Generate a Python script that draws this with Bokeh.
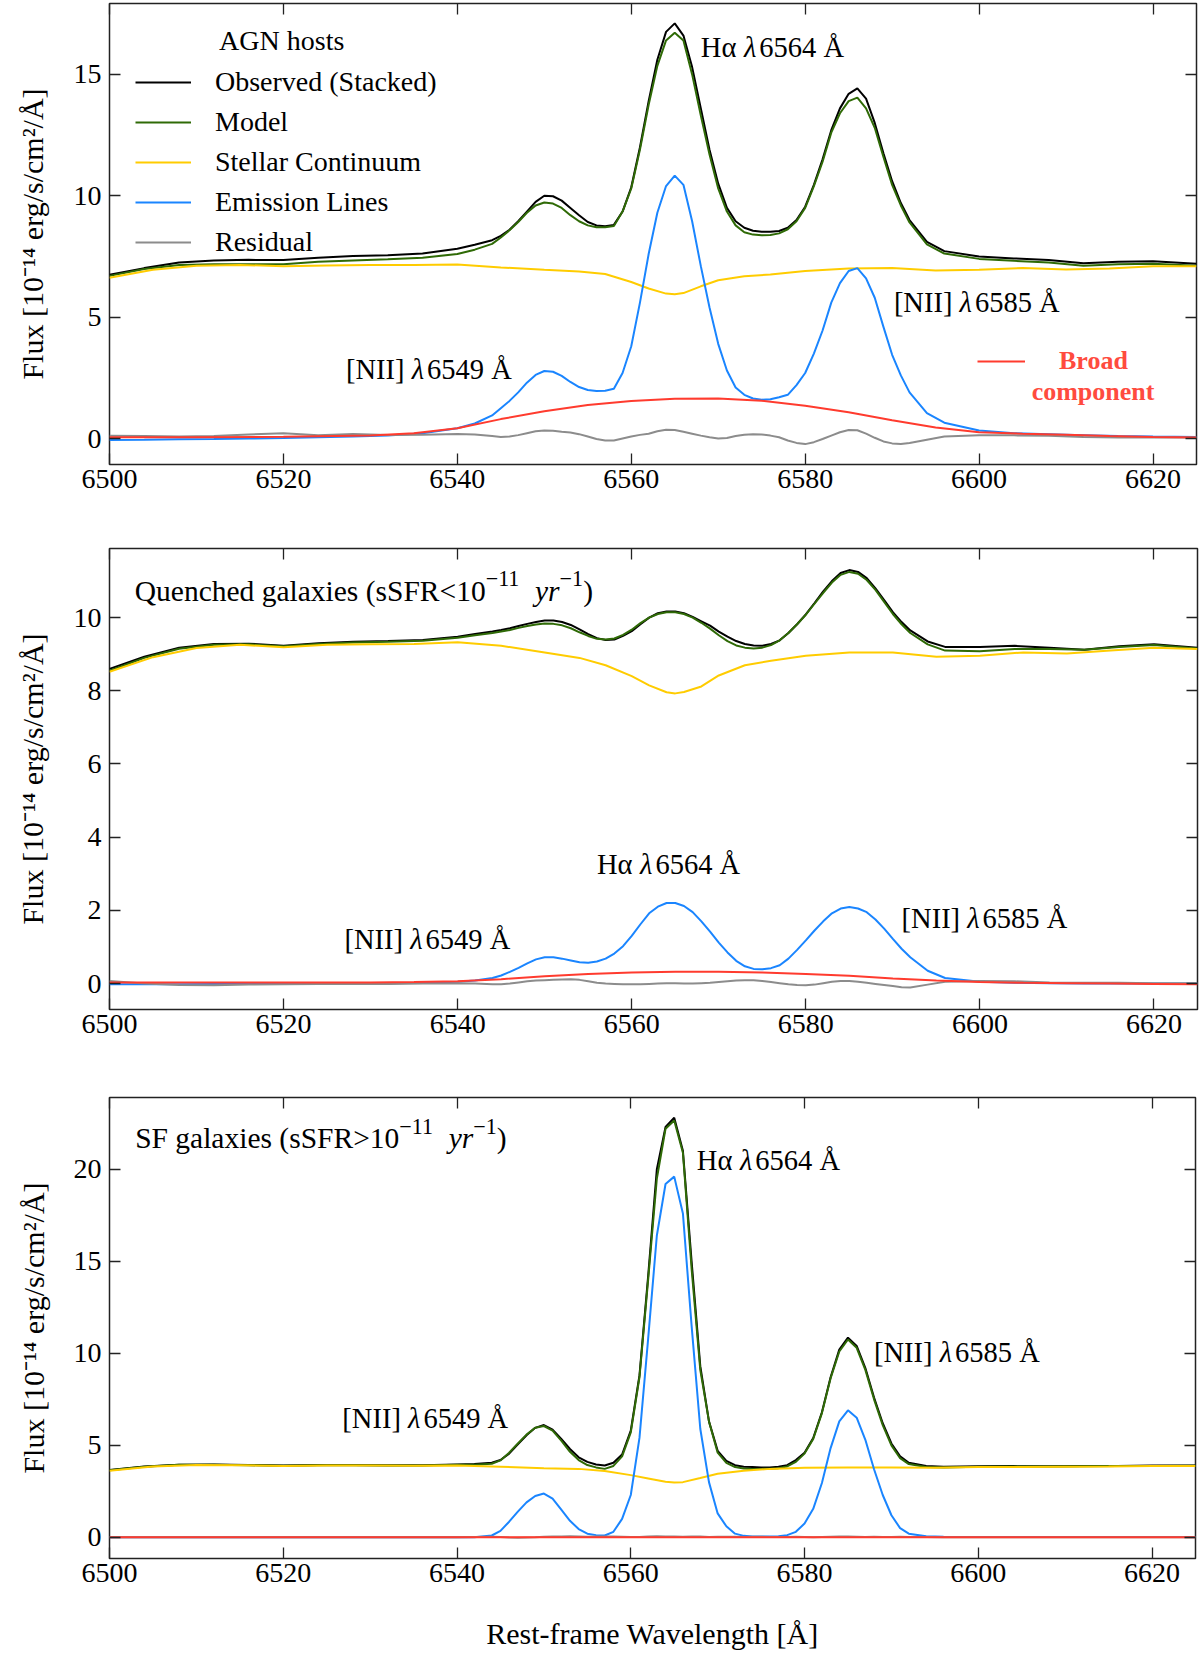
from bokeh.plotting import figure
from bokeh.layouts import column
from bokeh.models import Range1d, FixedTicker, LinearAxis, Legend, LegendItem
from bokeh.core.properties import value
from bokeh.embed import file_html
from bokeh.resources import INLINE

# ---------------- data ----------------
wavelength = [6500, 6504, 6508, 6512, 6516, 6520, 6524, 6528, 6532, 6536,
              6540, 6542, 6544, 6545, 6546, 6547, 6548, 6549, 6550, 6551,
              6552, 6553, 6554, 6555, 6556, 6557, 6558, 6559, 6560, 6561,
              6562, 6563, 6564, 6565, 6566, 6567, 6568, 6569, 6570, 6571,
              6572, 6573, 6574, 6575, 6576, 6577, 6578, 6579, 6580, 6581,
              6582, 6583, 6584, 6585, 6586, 6587, 6588, 6589, 6590, 6591,
              6592, 6594, 6596, 6600, 6604, 6608, 6612, 6616, 6620, 6625]
wl_stellar = [6500, 6505, 6510, 6515, 6520, 6525, 6530, 6535, 6540, 6545,
              6550, 6554, 6557, 6560, 6562, 6564, 6565, 6566, 6568, 6570,
              6573, 6576, 6580, 6585, 6590, 6595, 6600, 6605, 6610, 6615,
              6620, 6625]
wl_broad = [6500, 6510, 6520, 6530, 6535, 6540, 6545, 6550, 6555, 6560,
            6565, 6570, 6575, 6580, 6585, 6590, 6595, 6600, 6605, 6610,
            6615, 6620, 6625]

# AGN hosts
agn_observed = [6.75, 7.02, 7.25, 7.33, 7.36, 7.35, 7.45, 7.52, 7.55, 7.62,
                7.82, 7.98, 8.17, 8.35, 8.6, 8.95, 9.35, 9.75, 10.0, 9.98,
                9.8, 9.5, 9.2, 8.92, 8.78, 8.74, 8.8, 9.35, 10.35, 12.0,
                13.9, 15.6, 16.75, 17.1, 16.6, 15.3, 13.6, 11.9, 10.5, 9.5,
                8.95, 8.68, 8.56, 8.52, 8.52, 8.55, 8.68, 9.0, 9.55, 10.45,
                11.5, 12.7, 13.6, 14.2, 14.42, 14.0, 13.0, 11.75, 10.6, 9.7,
                9.0, 8.1, 7.72, 7.5, 7.42, 7.35, 7.22, 7.28, 7.3, 7.2]
agn_model = [6.7, 6.98, 7.15, 7.18, 7.18, 7.18, 7.28, 7.33, 7.38, 7.45,
             7.6, 7.78, 8.02, 8.28, 8.58, 8.92, 9.3, 9.6, 9.72, 9.68,
             9.5, 9.2, 8.95, 8.78, 8.7, 8.7, 8.75, 9.35, 10.3, 11.9,
             13.75, 15.35, 16.4, 16.72, 16.4, 15.0, 13.3, 11.7, 10.3, 9.35,
             8.78, 8.5, 8.4, 8.37, 8.38, 8.45, 8.62, 8.95, 9.5, 10.4,
             11.4, 12.6, 13.4, 13.9, 14.04, 13.6, 12.8, 11.6, 10.45, 9.6,
             8.9, 8.0, 7.62, 7.4, 7.32, 7.25, 7.12, 7.18, 7.2, 7.12]
agn_emission = [-0.06, -0.05, -0.03, -0.02, 0.0, 0.02, 0.05, 0.08, 0.12, 0.22,
                0.42, 0.62, 0.95, 1.25, 1.55, 1.9, 2.3, 2.62, 2.78, 2.75,
                2.58, 2.33, 2.12, 2.0, 1.96, 1.97, 2.05, 2.7, 3.8, 5.6,
                7.6, 9.3, 10.4, 10.83, 10.45, 8.95, 7.1, 5.4, 3.9, 2.8,
                2.1, 1.8, 1.65, 1.6, 1.62, 1.7, 1.8, 2.2, 2.7, 3.5,
                4.45, 5.6, 6.4, 6.9, 7.02, 6.6, 5.8, 4.6, 3.45, 2.6,
                1.9, 1.05, 0.65, 0.33, 0.22, 0.18, 0.14, 0.1, 0.08, 0.06]
agn_residual = [0.11, 0.1, 0.08, 0.1, 0.17, 0.22, 0.13, 0.19, 0.15, 0.16,
                0.19, 0.17, 0.1, 0.06, 0.08, 0.14, 0.22, 0.3, 0.33, 0.32,
                0.28, 0.25, 0.18, 0.08, -0.02, -0.08, -0.08, 0.0, 0.08, 0.15,
                0.2, 0.3, 0.36, 0.35, 0.28, 0.2, 0.12, 0.05, 0.0, 0.02,
                0.1, 0.16, 0.18, 0.17, 0.12, 0.05, -0.08, -0.18, -0.23, -0.15,
                -0.02, 0.12, 0.26, 0.35, 0.34, 0.2, 0.03, -0.12, -0.2, -0.23,
                -0.18, -0.05, 0.08, 0.14, 0.13, 0.11, 0.06, 0.04, 0.04, 0.04]
agn_stellar = [6.62, 6.95, 7.12, 7.15, 7.1, 7.13, 7.15, 7.15, 7.17, 7.05,
               6.95, 6.88, 6.78, 6.45, 6.18, 5.97, 5.94, 5.99, 6.27, 6.52,
               6.68, 6.76, 6.9, 7.0, 7.02, 6.92, 6.95, 7.02, 6.96, 7.0,
               7.1, 7.1]
agn_broad = [0.05, 0.05, 0.07, 0.12, 0.22, 0.42, 0.8, 1.12, 1.38, 1.55,
             1.64, 1.65, 1.56, 1.35, 1.08, 0.75, 0.45, 0.26, 0.2, 0.16,
             0.1, 0.06, 0.04]

# Quenched galaxies
q_observed = [8.6, 8.93, 9.18, 9.28, 9.29, 9.23, 9.3, 9.34, 9.36, 9.39,
              9.48, 9.55, 9.62, 9.66, 9.71, 9.77, 9.83, 9.88, 9.92, 9.92,
              9.88, 9.8, 9.68, 9.55, 9.44, 9.39, 9.4, 9.5, 9.63, 9.82,
              10.0, 10.12, 10.17, 10.17, 10.12, 10.02, 9.9, 9.78, 9.62, 9.48,
              9.36, 9.28, 9.24, 9.23, 9.28, 9.38, 9.58, 9.82, 10.09, 10.4,
              10.72, 11.0, 11.22, 11.3, 11.25, 11.08, 10.8, 10.48, 10.15, 9.88,
              9.65, 9.35, 9.2, 9.2, 9.23, 9.18, 9.12, 9.22, 9.27, 9.18]
q_model = [8.55, 8.9, 9.15, 9.26, 9.27, 9.22, 9.28, 9.32, 9.34, 9.37,
           9.45, 9.52, 9.58, 9.62, 9.66, 9.72, 9.77, 9.81, 9.84, 9.83,
           9.79, 9.71, 9.6, 9.5, 9.42, 9.4, 9.43, 9.53, 9.67, 9.85,
           10.0, 10.1, 10.15, 10.15, 10.1, 10.0, 9.86, 9.7, 9.52, 9.36,
           9.24, 9.18, 9.16, 9.18, 9.25, 9.38, 9.58, 9.82, 10.08, 10.38,
           10.68, 10.96, 11.17, 11.25, 11.2, 11.03, 10.76, 10.43, 10.1, 9.82,
           9.58, 9.27, 9.1, 9.08, 9.14, 9.14, 9.12, 9.2, 9.25, 9.16]
q_emission = [-0.02, -0.02, -0.02, -0.01, -0.01, 0.0, 0.0, 0.0, 0.01, 0.02,
              0.05, 0.08, 0.15, 0.22, 0.32, 0.43, 0.55, 0.66, 0.72, 0.72,
              0.68, 0.63, 0.58, 0.57, 0.6, 0.68, 0.82, 1.02, 1.3, 1.62,
              1.92, 2.1, 2.2, 2.2, 2.12, 1.95, 1.7, 1.42, 1.12, 0.85,
              0.62, 0.47, 0.4, 0.39, 0.42, 0.5, 0.68, 0.92, 1.18, 1.45,
              1.7, 1.92, 2.05, 2.09, 2.05, 1.95, 1.75, 1.5, 1.22, 0.95,
              0.72, 0.35, 0.15, 0.05, 0.02, 0.01, 0.0, 0.0, 0.0, 0.0]
q_residual = [0.07, 0.0, -0.04, -0.05, -0.03, -0.02, -0.01, -0.01, -0.01, 0.0,
              0.01, 0.0, -0.02, -0.02, 0.0, 0.03, 0.06, 0.08, 0.09, 0.1,
              0.11, 0.12, 0.1, 0.06, 0.02, 0.0, -0.01, -0.02, -0.02, -0.02,
              -0.01, 0.0, 0.01, 0.01, 0.0, 0.0, 0.01, 0.02, 0.04, 0.06,
              0.08, 0.09, 0.09, 0.07, 0.04, 0.01, -0.02, -0.04, -0.05, -0.03,
              0.01, 0.05, 0.07, 0.07, 0.05, 0.02, -0.01, -0.04, -0.07, -0.1,
              -0.11, -0.03, 0.05, 0.07, 0.06, 0.03, 0.02, 0.02, 0.01, 0.01]
q_stellar = [8.52, 8.92, 9.17, 9.26, 9.19, 9.26, 9.27, 9.28, 9.33, 9.23,
             9.05, 8.9, 8.7, 8.4, 8.15, 7.96, 7.93, 7.97, 8.12, 8.42,
             8.7, 8.82, 8.96, 9.05, 9.05, 8.93, 8.96, 9.05, 9.02, 9.1,
             9.18, 9.14]
q_broad = [0.03, 0.03, 0.03, 0.03, 0.04, 0.06, 0.12, 0.2, 0.26, 0.3,
           0.32, 0.32, 0.3, 0.26, 0.21, 0.14, 0.08, 0.04, 0.02, 0.01,
           0.0, -0.01, -0.02]

# SF galaxies
sf_observed = [3.66, 3.85, 3.95, 3.96, 3.93, 3.9, 3.93, 3.93, 3.92, 3.92,
               3.96, 3.98, 4.05, 4.2, 4.55, 5.05, 5.55, 5.95, 6.1, 5.85,
               5.35, 4.8, 4.35, 4.1, 3.96, 3.9, 4.05, 4.5, 5.8, 8.8,
               14.2, 20.0, 22.3, 22.8, 21.0, 15.0, 9.3, 6.3, 4.7, 4.15,
               3.92, 3.84, 3.82, 3.8, 3.8, 3.83, 3.92, 4.2, 4.6, 5.4,
               6.8, 8.7, 10.2, 10.85, 10.4, 9.2, 7.6, 6.2, 5.1, 4.4,
               4.05, 3.88, 3.84, 3.86, 3.87, 3.86, 3.87, 3.88, 3.9, 3.9]
sf_model = [3.64, 3.84, 3.94, 3.95, 3.92, 3.89, 3.92, 3.92, 3.91, 3.91,
            3.94, 3.95, 4.0, 4.18, 4.6, 5.1, 5.58, 5.95, 6.05, 5.8,
            5.25, 4.65, 4.2, 3.93, 3.8, 3.72, 3.88, 4.4, 5.7, 8.7,
            14.0, 19.5, 22.2, 22.65, 20.9, 14.6, 9.1, 6.3, 4.6, 4.05,
            3.82, 3.74, 3.72, 3.72, 3.73, 3.76, 3.85, 4.1, 4.55, 5.35,
            6.75, 8.65, 10.1, 10.75, 10.3, 9.1, 7.5, 6.1, 5.0, 4.3,
            3.98, 3.82, 3.8, 3.84, 3.85, 3.85, 3.86, 3.87, 3.88, 3.89]
sf_emission = [0.0, 0.0, 0.0, 0.0, 0.0, 0.0, 0.0, 0.0, 0.0, 0.0,
               0.0, 0.01, 0.1, 0.35, 0.85, 1.4, 1.9, 2.25, 2.38, 2.1,
               1.5, 0.9, 0.45, 0.2, 0.12, 0.1, 0.3, 1.0, 2.3, 5.4,
               10.8, 16.4, 19.2, 19.6, 17.6, 11.5, 5.9, 3.0, 1.3, 0.6,
               0.2, 0.08, 0.05, 0.04, 0.04, 0.06, 0.12, 0.3, 0.75, 1.55,
               2.95, 4.85, 6.3, 6.9, 6.5, 5.3, 3.7, 2.3, 1.2, 0.5,
               0.2, 0.06, 0.03, 0.02, 0.02, 0.02, 0.02, 0.02, 0.02, 0.02]
sf_residual = [0.01, 0.0, 0.01, 0.0, 0.01, 0.0, 0.01, 0.0, 0.01, 0.0,
               0.01, 0.02, 0.03, 0.02, -0.01, -0.02, -0.01, 0.0, 0.03, 0.04,
               0.05, 0.06, 0.05, 0.03, 0.04, 0.05, 0.04, 0.03, 0.02, 0.02,
               0.04, 0.06, 0.05, 0.04, 0.03, 0.05, 0.04, 0.02, 0.03, 0.03,
               0.03, 0.02, 0.03, 0.03, 0.02, 0.02, 0.02, 0.03, 0.02, 0.01,
               0.02, 0.03, 0.04, 0.04, 0.03, 0.02, 0.03, 0.02, 0.02, 0.03,
               0.02, 0.02, 0.01, 0.01, 0.01, 0.0, 0.01, 0.0, 0.01, 0.0]
sf_stellar = [3.62, 3.85, 3.93, 3.92, 3.88, 3.91, 3.9, 3.89, 3.9, 3.84,
              3.76, 3.72, 3.6, 3.38, 3.2, 3.02, 2.98, 3.0, 3.22, 3.45,
              3.62, 3.72, 3.78, 3.8, 3.8, 3.78, 3.82, 3.82, 3.84, 3.85,
              3.87, 3.88]
sf_broad = [0.0, 0.0, 0.0, 0.0, 0.0, 0.0, 0.0, 0.0, 0.0, 0.0,
            0.0, 0.0, 0.0, 0.0, 0.0, 0.0, 0.0, 0.0, 0.0, 0.0,
            0.0, 0.0, 0.0]

x_ticks = [6500, 6520, 6540, 6560, 6580, 6600, 6620]
agn_yticks = [0, 5, 10, 15]
q_yticks = [0, 2, 4, 6, 8, 10]
sf_yticks = [0, 5, 10, 15, 20]

series_labels = ["Observed (Stacked)", "Model", "Stellar Continuum",
                 "Emission Lines", "Residual"]

# ---------------- styling ----------------
FONT = "Liberation Serif"
FS = 28        # ticks / legend
FA = 28.5      # annotations
FT = 29.5      # panel titles
FL = 30        # axis titles
C_OBS = "#000000"
C_MOD = "#2f6a06"
C_STE = "#ffcc00"
C_EMI = "#1a85ff"
C_RES = "#8c8c8c"
C_BRO = "#ff3b2e"
C_BRO_TXT = "#ff4b3e"
LW = 2.0

TW = {' ': 250, '(': 333, ')': 333, '[': 333, ']': 333, '<': 564, '>': 564,
      'A': 722, 'Å': 722, 'F': 556, 'G': 722, 'H': 722, 'I': 333, 'N': 722,
      'Q': 722, 'R': 667, 'S': 556, 'a': 444, 'c': 444, 'd': 500, 'e': 444,
      'g': 500, 'h': 500, 'i': 278, 'l': 278, 'n': 500, 's': 389, 'u': 500,
      'x': 500, 'y': 500, 'r': 333, 'o': 500, 't': 278, 'α': 540, 'λ': 550,
      '−': 564}
TWI = {'y': 444, 'r': 389, 'λ': 540}


def wid(s, italic=False):
    t = 0
    for ch in s:
        w = TW.get(ch, 500)
        if italic and ch in TWI:
            w = TWI[ch]
        t += w
    return t / 1000.0


def rich(p, x, y, segs, size=FA, color="black"):
    off = 0.0
    for txt, style, scale, rise in segs:
        fs = size * scale
        p.text(x=[x], y=[y], text=[txt], x_offset=off, y_offset=-rise * size,
               text_font=value(FONT), text_font_size=f"{fs:.1f}px",
               text_font_style=style, text_align="left", text_baseline="middle",
               text_color=color)
        off += wid(txt, style == "italic") * fs


def line_label(p, x, y, name, wl):
    rich(p, x, y, [(name + " ", "normal", 1.0, 0.0), ("λ", "italic", 1.0, 0.0),
                   (wl + " Å", "normal", 1.0, 0.0)])


def ssfr_label(p, x, y, head):
    rich(p, x, y, [(head + "10", "normal", 1.0, 0.0),
                   ("−11", "normal", 0.75, 0.40), ("  ", "normal", 1.0, 0.0),
                   ("yr", "italic", 1.0, 0.0), ("−1", "normal", 0.75, 0.40),
                   (")", "normal", 1.0, 0.0)], size=FT)


def make_fig(yr, yticks, frame_w, frame_h, b_left, b_right, b_top, b_bottom,
             xlabel=None, ylabel_standoff=22):
    p = figure(x_range=Range1d(6500, 6625), y_range=Range1d(*yr),
               frame_width=frame_w, frame_height=frame_h,
               output_backend="svg", toolbar_location=None,
               min_border_left=b_left, min_border_right=b_right,
               min_border_top=b_top, min_border_bottom=b_bottom)
    p.grid.visible = False
    p.outline_line_color = "#222222"
    p.outline_line_width = 1.5
    p.background_fill_color = "white"
    p.border_fill_color = "white"
    bottom = p.xaxis[0]
    left = p.yaxis[0]
    bottom.ticker = FixedTicker(ticks=x_ticks)
    left.ticker = FixedTicker(ticks=yticks)
    top = LinearAxis(ticker=FixedTicker(ticks=x_ticks))
    right = LinearAxis(ticker=FixedTicker(ticks=yticks))
    p.add_layout(top, "above")
    p.add_layout(right, "right")
    for ax in (bottom, left, top, right):
        ax.axis_line_color = None
        ax.major_tick_in = 11
        ax.major_tick_out = 0
        ax.minor_tick_line_color = None
        ax.major_tick_line_color = "#222222"
        ax.major_tick_line_width = 1.3
        ax.major_label_text_font = FONT
        ax.major_label_text_font_size = f"{FS}px"
        ax.major_label_text_color = "black"
    for ax in (top, right):
        ax.major_label_text_font_size = "1px"
        ax.major_label_text_color = None
        ax.major_label_text_alpha = 0
        ax.major_label_standoff = 0
    bottom.major_label_standoff = 5
    left.major_label_standoff = 8
    left.axis_label = "Flux [10⁻¹⁴ erg/s/cm²/Å]"
    left.axis_label_text_font = FONT
    left.axis_label_text_font_size = f"{FL}px"
    left.axis_label_text_font_style = "normal"
    left.axis_label_text_color = "black"
    left.axis_label_standoff = ylabel_standoff
    if xlabel:
        bottom.axis_label = xlabel
        bottom.axis_label_text_font = FONT
        bottom.axis_label_text_font_size = f"{FL}px"
        bottom.axis_label_text_font_style = "normal"
        bottom.axis_label_text_color = "black"
        bottom.axis_label_standoff = 32
    return p


def draw(p, obs, mod, ste, emi, res, bro):
    r_obs = p.line(wavelength, obs, line_color=C_OBS, line_width=LW)
    r_mod = p.line(wavelength, mod, line_color=C_MOD, line_width=LW)
    r_ste = p.line(wl_stellar, ste, line_color=C_STE, line_width=LW)
    r_emi = p.line(wavelength, emi, line_color=C_EMI, line_width=LW)
    r_res = p.line(wavelength, res, line_color=C_RES, line_width=LW)
    r_bro = p.line(wl_broad, bro, line_color=C_BRO, line_width=LW)
    return [r_obs, r_mod, r_ste, r_emi, r_res], r_bro


def plain_legend(items, loc, font_size, glyph_w, row_h, standoff):
    lg = Legend(items=items, location=loc)
    lg.padding = 0
    lg.margin = 0
    lg.spacing = 0
    lg.border_line_color = None
    lg.background_fill_alpha = 0
    lg.label_text_font = FONT
    lg.label_text_font_size = font_size
    lg.label_text_color = "black"
    lg.glyph_width = glyph_w
    lg.glyph_height = row_h
    lg.label_height = row_h
    lg.label_standoff = standoff
    return lg


# ---------------- panel 1: AGN hosts ----------------
p1 = make_fig((-1.07, 17.92), agn_yticks, 1087, 461, 109, 4, 3, 42)
rs1, rb1 = draw(p1, agn_observed, agn_model, agn_stellar, agn_emission,
                agn_residual, agn_broad)
leg = plain_legend([LegendItem(label=lab, renderers=[r])
                    for lab, r in zip(series_labels, rs1)],
                   (26, 202), f"{FS}px", 56, 40, 24)
p1.add_layout(leg)
rich(p1, 6512.6, 16.40, [("AGN hosts", "normal", FS / FA, 0.0)])

leg_b = plain_legend([LegendItem(label="Broad", renderers=[rb1])],
                     (868, 86), "26px", 48, 34, 34)
leg_b.label_text_font_style = "bold"
leg_b.label_text_color = C_BRO_TXT
p1.add_layout(leg_b)
p1.text(x=[6613.1], y=[1.94], text=["component"], text_font=value(FONT),
        text_font_size="26px", text_font_style="bold", text_align="center",
        text_baseline="middle", text_color=C_BRO_TXT)

line_label(p1, 6568.0, 16.1, "Hα", "6564")
line_label(p1, 6590.2, 5.6, "[NII]", "6585")
line_label(p1, 6527.2, 2.86, "[NII]", "6549")

# ---------------- panel 2: Quenched ----------------
p2 = make_fig((-0.71, 11.89), q_yticks, 1088, 461, 108, 4, 42, 44)
draw(p2, q_observed, q_model, q_stellar, q_emission, q_residual, q_broad)
ssfr_label(p2, 6502.9, 10.74, "Quenched galaxies (sSFR<")
line_label(p2, 6556.0, 3.25, "Hα", "6564")
line_label(p2, 6527.0, 1.2, "[NII]", "6549")
line_label(p2, 6591.0, 1.77, "[NII]", "6585")

# ---------------- panel 3: SF galaxies ----------------
p3 = make_fig((-1.15, 23.9), sf_yticks, 1086, 461, 102, 12, 44, 94,
              xlabel="Rest-frame Wavelength [Å]", ylabel_standoff=21)
draw(p3, sf_observed, sf_model, sf_stellar, sf_emission, sf_residual, sf_broad)
ssfr_label(p3, 6502.95, 21.7, "SF galaxies (sSFR>")
line_label(p3, 6567.6, 20.5, "Hα", "6564")
line_label(p3, 6588.0, 10.04, "[NII]", "6585")
line_label(p3, 6526.8, 6.47, "[NII]", "6549")

layout = column(p1, p2, p3, spacing=0)
open("out.html", "w").write(file_html(layout, INLINE))
